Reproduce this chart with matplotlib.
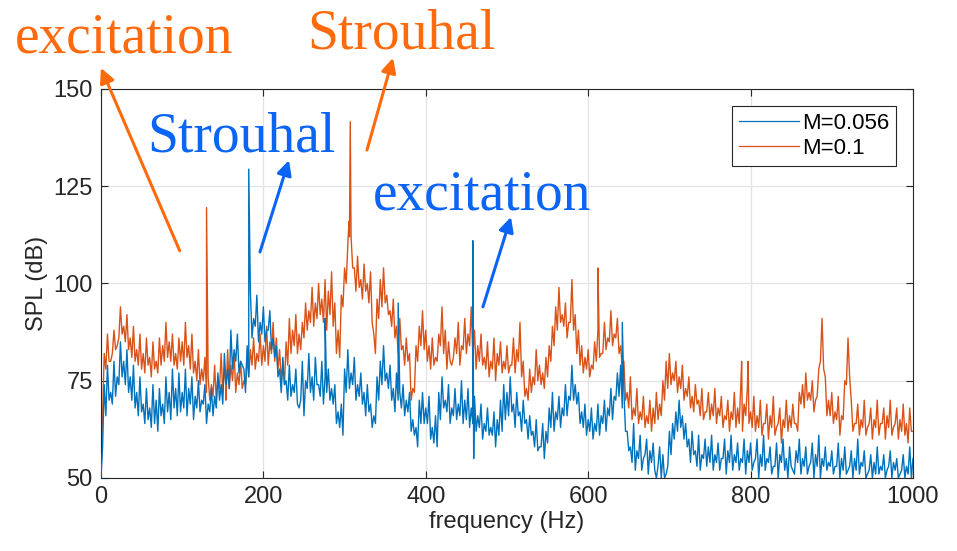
import matplotlib
matplotlib.use("Agg")
import matplotlib.pyplot as plt
import numpy as np

# === Spectra ===
# samples on a 4 Hz grid (0..1000 Hz) plus the lower edge of the noise band
# read at 2, 6, 10 ... 998 Hz
freq_grid = np.arange(0, 1001, 4)
freq_mid = np.arange(2, 1000, 4)

spl_m0056 = [
    50, 74, 79, 72, 80, 76, 85, 80, 83, 76, 79, 72, 76, 69, 73, 68, 74, 70, 73, 69, 76, 72, 78, 73, 77,
    72, 78, 73, 76, 71, 75, 70, 74, 69, 73, 71, 77, 74, 82, 78, 88, 83, 87, 80, 78, 84, 98, 91, 97, 90,
    94, 88, 93, 86, 84, 78, 81, 75, 79, 74, 78, 68, 80, 75, 82, 76, 81, 74, 80, 76, 78, 73, 74, 67, 69,
    78, 83, 77, 81, 74, 77, 72, 74, 69, 66, 76, 80, 84, 77, 79, 73, 77, 72, 74, 70, 72, 65, 63, 70, 72,
    68, 71, 63, 66, 72, 76, 70, 74, 68, 73, 69, 75, 70, 73, 68, 71, 66, 69, 64, 68, 63, 67, 65, 70, 74,
    72, 76, 69, 72, 67, 70, 65, 66, 62, 65, 58, 64, 62, 68, 72, 67, 71, 68, 74, 71, 79, 74, 72, 67, 69,
    65, 68, 64, 69, 66, 70, 68, 73, 71, 77, 79, 72, 62, 58, 64, 57, 61, 55, 60, 57, 59, 50, 58, 56, 51,
    62, 64, 67, 70, 66, 64, 60, 62, 57, 61, 56, 60, 58, 61, 56, 59, 55, 60, 57, 61, 56, 59, 55, 60, 57,
    59, 54, 60, 56, 61, 55, 58, 53, 59, 56, 60, 55, 58, 52, 57, 60, 55, 58, 53, 59, 56, 61, 55, 58, 54,
    57, 53, 59, 55, 58, 52, 57, 55, 60, 54, 57, 51, 56, 54, 58, 53, 56, 52, 57, 54, 55, 51, 56, 53, 58,
    55,
]
spl_m0056_low = [
    58, 66, 70, 69, 71, 74, 76, 74, 72, 70, 68, 66, 67, 64, 65, 63, 64, 62, 66, 64, 67, 65, 68, 66, 67,
    68, 66, 69, 65, 68, 67, 69, 64, 67, 66, 68, 70, 69, 74, 73, 78, 80, 77, 79, 72, 76, 86, 89, 85, 87,
    85, 88, 83, 81, 76, 72, 74, 70, 71, 72, 69, 70, 66, 73, 72, 70, 74, 71, 69, 72, 70, 69, 64, 63, 61,
    72, 73, 74, 70, 71, 69, 66, 67, 63, 64, 70, 74, 75, 73, 70, 67, 70, 68, 66, 67, 62, 61, 58, 64, 64,
    64, 60, 59, 58, 65, 68, 67, 64, 66, 65, 66, 64, 65, 63, 64, 62, 63, 60, 62, 61, 61, 58, 61, 62, 65,
    66, 67, 63, 66, 62, 64, 60, 61, 58, 57, 58, 55, 59, 63, 62, 65, 63, 66, 66, 70, 70, 69, 64, 63, 61,
    62, 60, 62, 61, 64, 62, 66, 65, 70, 71, 68, 62, 57, 54, 52, 55, 52, 56, 51, 54, 52, 53, 50, 50, 53,
    56, 60, 62, 63, 60, 58, 54, 56, 53, 52, 55, 53, 54, 52, 54, 52, 55, 51, 54, 52, 54, 52, 54, 51, 54,
    52, 55, 50, 53, 52, 54, 51, 53, 50, 54, 52, 50, 53, 51, 54, 51, 53, 51, 54, 50, 53, 50, 53, 52, 53,
    51, 53, 50, 52, 51, 53, 50, 52, 51, 53, 50, 52, 50, 51, 51, 52, 50, 53, 50, 52, 50, 52, 50, 51, 50,
]

spl_m01 = [
    50, 82, 87, 80, 88, 84, 94, 89, 92, 86, 89, 83, 87, 82, 86, 81, 85, 80, 86, 84, 90, 85, 87, 82, 86,
    85, 90, 84, 87, 80, 83, 78, 81, 76, 74, 79, 76, 82, 78, 83, 79, 82, 77, 80, 75, 81, 83, 86, 82, 87,
    84, 89, 85, 90, 86, 83, 79, 85, 91, 88, 92, 87, 90, 95, 93, 99, 95, 100, 96, 101, 98, 103, 95, 88, 97,
    104, 110, 112, 104, 107, 101, 105, 100, 103, 87, 96, 101, 104, 97, 93, 96, 89, 91, 84, 86, 82, 73, 84, 89, 93,
    88, 84, 86, 81, 87, 94, 88, 85, 79, 86, 90, 84, 91, 87, 94, 88, 84, 87, 81, 85, 80, 86, 82, 85, 80,
    84, 79, 86, 83, 90, 80, 73, 78, 76, 83, 79, 77, 81, 84, 89, 94, 99, 92, 95, 90, 101, 92, 88, 84, 81,
    83, 79, 85, 88, 82, 90, 86, 93, 87, 91, 84, 80, 72, 76, 68, 73, 67, 71, 66, 70, 68, 72, 69, 75, 80,
    82, 77, 80, 76, 79, 73, 76, 71, 74, 70, 73, 67, 72, 69, 73, 68, 71, 66, 70, 67, 72, 68, 74, 69, 73,
    67, 71, 66, 70, 64, 69, 66, 71, 63, 68, 65, 70, 66, 69, 64, 72, 74, 77, 72, 75, 70, 78, 91, 76, 70,
    72, 67, 71, 66, 75, 86, 70, 64, 69, 65, 70, 63, 68, 65, 70, 64, 68, 66, 70, 63, 68, 65, 69, 64, 68,
    62,
]
spl_m01_low = [
    66, 78, 80, 82, 83, 86, 87, 85, 83, 81, 80, 79, 78, 77, 79, 76, 78, 77, 79, 80, 81, 80, 79, 78, 80,
    79, 81, 78, 77, 75, 74, 75, 72, 70, 71, 70, 73, 72, 74, 73, 75, 72, 74, 73, 74, 76, 79, 78, 80, 79,
    80, 79, 82, 80, 78, 75, 74, 79, 82, 84, 82, 83, 86, 88, 90, 89, 91, 92, 90, 88, 92, 89, 82, 81, 94,
    100, 112, 104, 98, 99, 96, 98, 95, 90, 82, 91, 94, 95, 92, 89, 86, 82, 83, 79, 80, 70, 72, 80, 84, 83,
    80, 78, 79, 80, 84, 82, 78, 80, 81, 82, 79, 83, 82, 84, 81, 78, 80, 79, 78, 76, 78, 75, 79, 77, 78,
    77, 79, 77, 80, 76, 71, 70, 72, 74, 75, 74, 73, 76, 80, 84, 88, 90, 89, 86, 90, 88, 82, 79, 77, 78,
    76, 78, 80, 81, 82, 83, 85, 84, 86, 82, 78, 70, 68, 65, 66, 64, 65, 63, 64, 62, 64, 65, 66, 70, 73,
    74, 75, 72, 73, 70, 71, 68, 67, 69, 66, 65, 67, 65, 66, 64, 66, 63, 65, 62, 65, 63, 64, 62, 66, 64,
    63, 62, 63, 61, 64, 60, 63, 61, 64, 59, 63, 62, 63, 64, 62, 69, 68, 70, 70, 67, 71, 80, 78, 66, 66,
    64, 65, 61, 65, 74, 76, 62, 64, 61, 63, 61, 64, 60, 63, 61, 64, 60, 63, 61, 64, 60, 62, 61, 59, 62,
]

# narrow tones
spike_f_m0056 = [182, 276, 366, 458, 459, 642]
spike_db_m0056 = [129.4, 91, 95, 111, 55, 90]
spike_f_m01 = [130, 154, 305.5, 307, 612, 789, 797]
spike_db_m01 = [119.5, 70, 116, 141.6, 104, 80, 80]

labels = ["M=0.056", "M=0.1"]
c_blue = "#0072BD"
c_orange = "#D95319"
txt_orange = "#FF6A0D"
txt_blue = "#0A64F5"


def merge(parts):
    f_all = np.concatenate([np.asarray(p[0], float) for p in parts])
    v_all = np.concatenate([np.asarray(p[1], float) for p in parts])
    order = np.argsort(f_all, kind="stable")
    return f_all[order], v_all[order]


f1, v1 = merge([(freq_grid, spl_m0056), (freq_mid, spl_m0056_low), (spike_f_m0056, spike_db_m0056)])
f2, v2 = merge([(freq_grid, spl_m01), (freq_mid, spl_m01_low), (spike_f_m01, spike_db_m01)])

plt.rcParams["font.family"] = ["Liberation Sans", "DejaVu Sans"]

fig = plt.figure(figsize=(9.57, 5.51), dpi=100)
ax = fig.add_axes([0.1055, 0.1325, 0.8485, 0.706])

l1, = ax.plot(f1, v1, color=c_blue, lw=1.0, zorder=3, label=labels[0])
l2, = ax.plot(f2, v2, color=c_orange, lw=1.0, zorder=2, label=labels[1])

ax.set_xlim(0, 1000)
ax.set_ylim(50, 150)
ax.set_xticks(np.arange(0, 1001, 200))
ax.set_yticks(np.arange(50, 151, 25))
ax.grid(True, color="#e3e3e3", lw=0.9, zorder=0)
ax.tick_params(direction="in", top=True, right=True, length=5, width=0.8,
               labelsize=17, colors="#262626", pad=6)
for s in ax.spines.values():
    s.set_color("#262626")
    s.set_linewidth(0.8)
ax.set_xlabel("frequency (Hz)", fontsize=17, color="#262626", labelpad=2)
ax.set_ylabel("SPL (dB)", fontsize=17, color="#262626", labelpad=4)

leg = ax.legend(handles=[l1, l2], loc="upper right", bbox_to_anchor=(0.979, 0.956),
                fontsize=16, fancybox=False, edgecolor="#262626", framealpha=1,
                handlelength=2.7, handletextpad=0.15, borderpad=0.3, labelspacing=0.2,
                borderaxespad=0)
leg.get_frame().set_linewidth(0.8)
for h in leg.get_lines():
    h.set_linewidth(0.9)

# === Annotations ===
serif = ["Liberation Serif", "DejaVu Serif"]
ax.text(-106, 159.5, "excitation", color=txt_orange, fontsize=40, family=serif,
        va="baseline", ha="left", clip_on=False)
ax.text(254, 160.5, "Strouhal", color=txt_orange, fontsize=40, family=serif,
        va="baseline", ha="left", clip_on=False)
ax.text(57, 134, "Strouhal", color=txt_blue, fontsize=40, family=serif,
        va="baseline", ha="left", clip_on=False)
ax.text(335, 119, "excitation", color=txt_blue, fontsize=40, family=serif,
        va="baseline", ha="left", clip_on=False)

arrows = [
    ((0, 155.4), (97, 108.4), txt_orange),
    ((359.6, 158), (327.6, 134.3), txt_orange),
    ((231.5, 131.7), (195.8, 108.1), txt_blue),
    ((504.9, 117.1), (470.4, 94), txt_blue),
]
for head, tail, col in arrows:
    ax.annotate("", xy=head, xytext=tail, annotation_clip=False,
                arrowprops=dict(arrowstyle="-|>", color=col, lw=2.2,
                                mutation_scale=22, shrinkA=0, shrinkB=0))

fig.savefig("out.png", dpi=100, facecolor="white")
